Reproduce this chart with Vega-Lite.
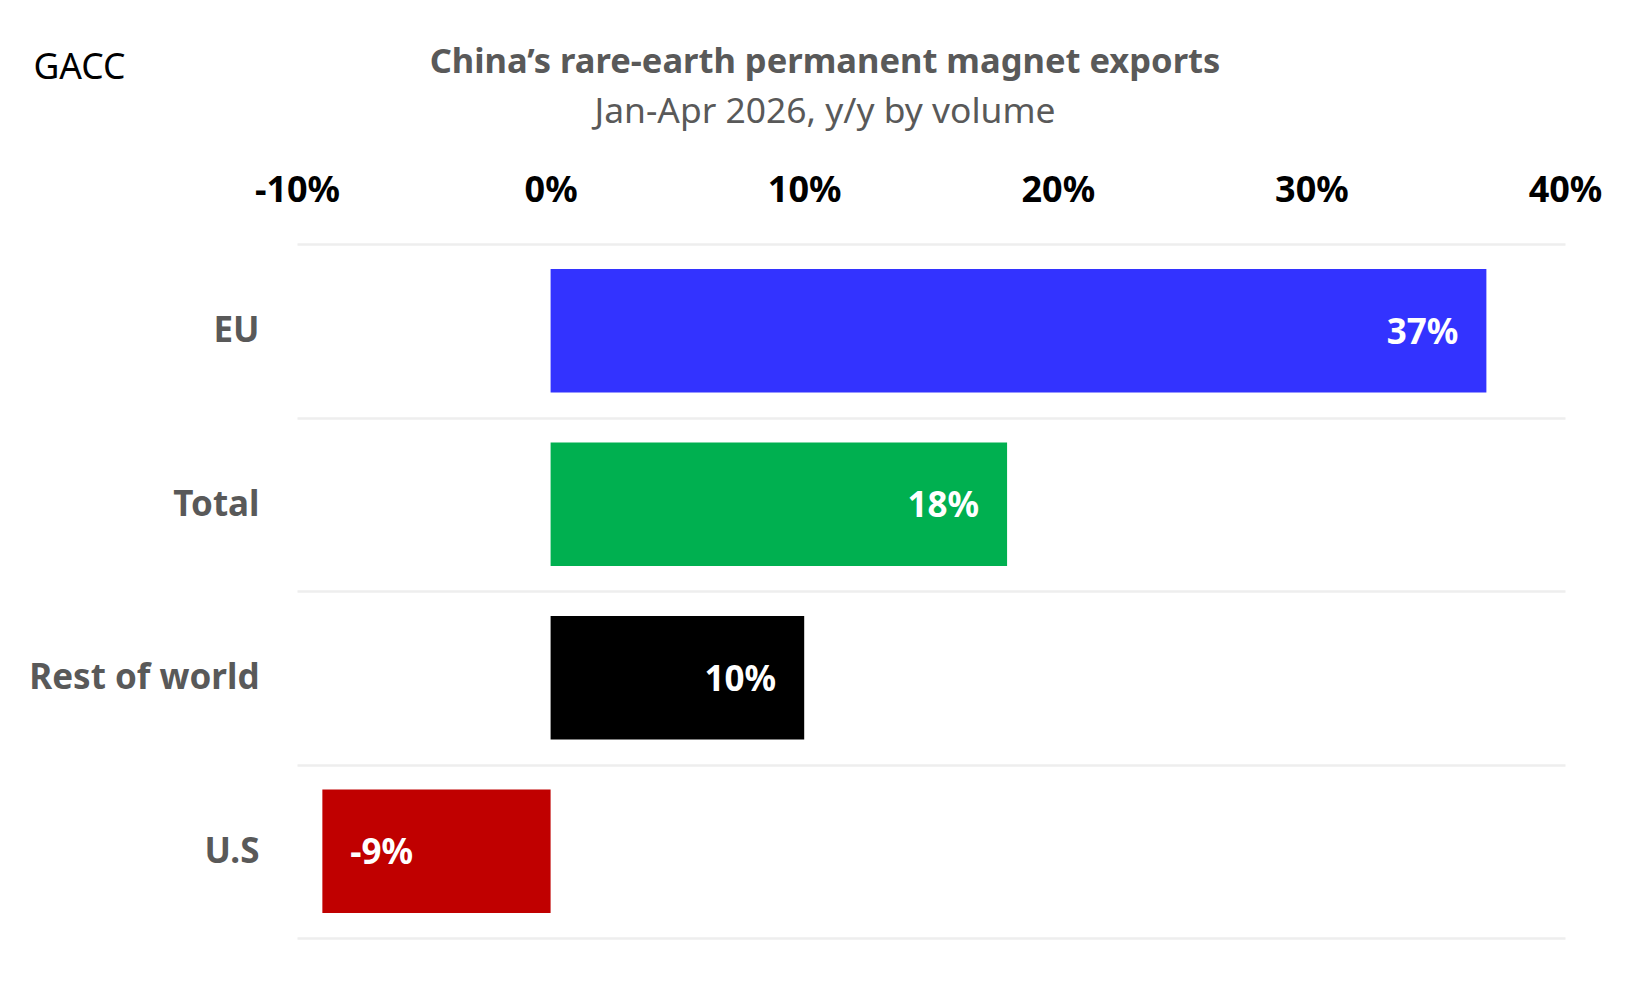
{
  "$schema": "https://vega.github.io/schema/vega-lite/v6.json",
  "width": 1268,
  "height": 694,
  "autosize": {"type": "none"},
  "padding": {"left": 297, "top": 244, "right": 85, "bottom": 50},
  "background": "white",
  "title": {
    "text": "China’s rare-earth permanent magnet exports",
    "subtitle": "Jan-Apr 2026, y/y by volume",
    "anchor": "middle",
    "frame": "group",
    "dx": -106,
    "offset": -81,
    "font": "Noto Sans",
    "fontSize": 34.5,
    "fontWeight": "bold",
    "color": "#595959",
    "subtitleFont": "Noto Sans",
    "subtitleFontSize": 35.4,
    "subtitleColor": "#595959",
    "subtitlePadding": 14
  },
  "data": {
    "values": [
      {"region": "EU", "value": 0.369},
      {"region": "Total", "value": 0.18},
      {"region": "Rest of world", "value": 0.10},
      {"region": "U.S", "value": -0.09}
    ]
  },
  "encoding": {
    "y": {
      "field": "region",
      "type": "nominal",
      "sort": null,
      "scale": {"paddingInner": 0, "paddingOuter": 0},
      "axis": {
        "title": "GACC",
        "titleAngle": 0,
        "titleAlign": "left",
        "titleBaseline": "middle",
        "titleX": -264,
        "titleY": -177,
        "titleFont": "Noto Sans",
        "titleFontSize": 35.5,
        "titleFontWeight": "normal",
        "titleColor": "black",
        "labelFont": "Noto Sans",
        "labelFontSize": 35,
        "labelFontWeight": "bold",
        "labelColor": "#595959",
        "labelPadding": 38,
        "labelLimit": 400,
        "ticks": false,
        "domain": false,
        "grid": true,
        "gridColor": "#EEEEEE",
        "gridWidth": 2.5,
        "tickBand": "extent"
      }
    },
    "x": {
      "field": "value",
      "type": "quantitative",
      "scale": {"domain": [-0.1, 0.4], "nice": false},
      "axis": {
        "orient": "top",
        "title": null,
        "values": [-0.1, 0, 0.1, 0.2, 0.3, 0.4],
        "format": ".0%",
        "labelFont": "Noto Sans",
        "labelFontSize": 36,
        "labelFontWeight": "bold",
        "labelColor": "black",
        "labelPadding": 35,
        "labelFlush": false,
        "labelOverlap": false,
        "ticks": false,
        "domain": false,
        "grid": false
      }
    }
  },
  "layer": [
    {
      "mark": {"type": "bar", "height": {"band": 0.712}},
      "encoding": {
        "color": {
          "field": "region",
          "type": "nominal",
          "scale": {
            "domain": ["EU", "Total", "Rest of world", "U.S"],
            "range": ["#3333FF", "#00B050", "#000000", "#C00000"]
          },
          "legend": null
        }
      }
    },
    {
      "transform": [{"filter": "datum.value >= 0"}],
      "mark": {"type": "text", "align": "right", "baseline": "middle", "dx": -28, "dy": 2, "font": "Noto Sans", "fontSize": 35, "fontWeight": "bold", "color": "white"},
      "encoding": {"text": {"field": "value", "type": "quantitative", "format": ".0%"}}
    },
    {
      "transform": [{"filter": "datum.value < 0"}],
      "mark": {"type": "text", "align": "left", "baseline": "middle", "dx": 28, "dy": 2, "font": "Noto Sans", "fontSize": 35, "fontWeight": "bold", "color": "white"},
      "encoding": {"text": {"field": "value", "type": "quantitative", "format": ".0%"}}
    },
    {
      "mark": {"type": "rule", "color": "black", "strokeWidth": 2.5},
      "encoding": {"x": {"datum": 0}}
    }
  ],
  "config": {
    "view": {"stroke": null},
    "locale": {
      "number": {"decimal": ".", "thousands": ",", "grouping": [3], "currency": ["$", ""], "minus": "-"}
    }
  }
}
